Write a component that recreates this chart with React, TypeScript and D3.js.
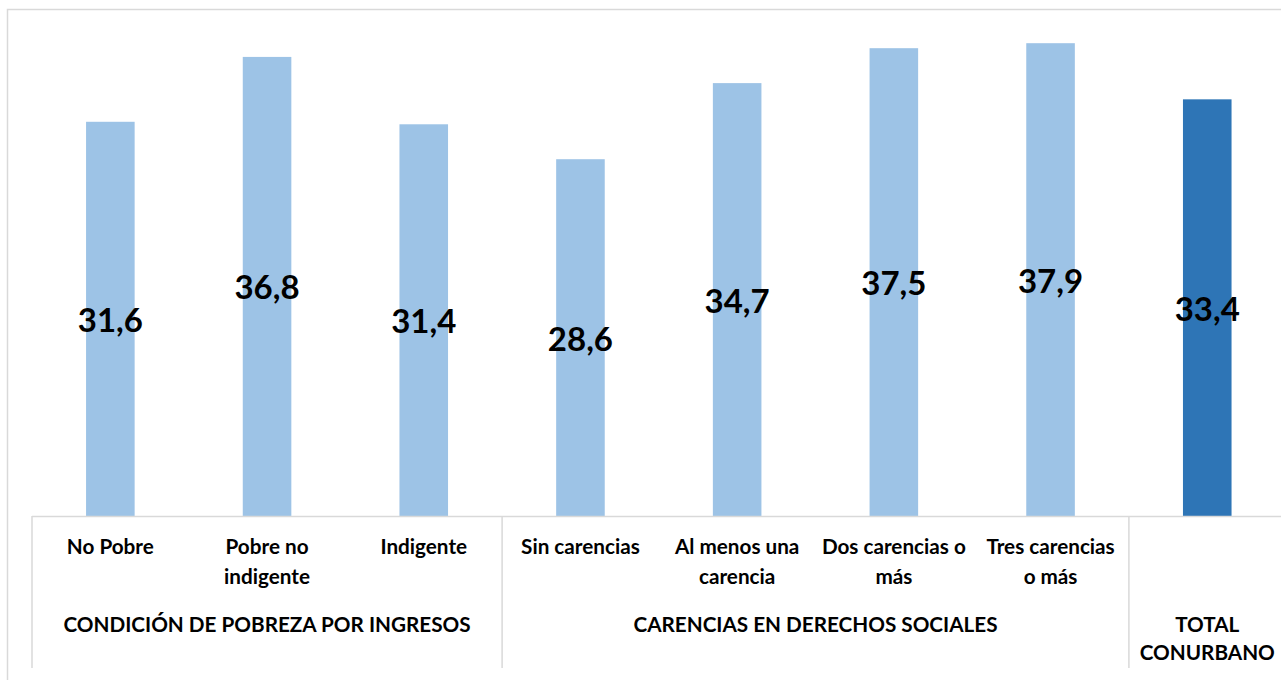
import React from "react";
import * as d3 from "d3";

const categories = [
  "No Pobre",
  "Pobre no indigente",
  "Indigente",
  "Sin carencias",
  "Al menos una carencia",
  "Dos carencias o más",
  "Tres carencias o más",
  "Total conurbano",
];
const tickLines: string[][] = [
  ["No Pobre"],
  ["Pobre no", "indigente"],
  ["Indigente"],
  ["Sin carencias"],
  ["Al menos una", "carencia"],
  ["Dos carencias o", "más"],
  ["Tres carencias", "o más"],
  [],
];
const values = [31.6, 36.8, 31.4, 28.6, 34.7, 37.5, 37.9, 33.4];
const valueLabels = ["31,6", "36,8", "31,4", "28,6", "34,7", "37,5", "37,9", "33,4"];
const highlighted = [false, false, false, false, false, false, false, true];

const groupNames: string[][] = [
  ["CONDICIÓN DE POBREZA POR INGRESOS"],
  ["CARENCIAS EN DERECHOS SOCIALES"],
  ["TOTAL", "CONURBANO"],
];
const groupStart = [0, 3, 7];
const groupEnd = [3, 7, 8];

const W = 1281;
const H = 680;
const FONT = "Lato, 'Open Sans', sans-serif";

export default function App() {
  const left = 32;
  const step = 156.7;
  const right = left + step * categories.length;
  const baseY = 516;

  const x = d3
    .scaleBand<string>()
    .domain(categories)
    .range([left, right])
    .paddingInner(0.69)
    .paddingOuter(0.345);
  const y = d3.scaleLinear().domain([0, 40]).range([baseY, 17]);

  const stepPx = x.step();
  const boundary = (i: number) => left + i * stepPx;
  const sepIdx = [0, 3, 7];

  return (
    <svg
      width={W}
      height={H}
      style={{ position: "absolute", left: 0, top: 0, display: "block", background: "#fff" }}
      fontFamily={FONT}
    >
      <rect x={7.5} y={9.5} width={W + 20} height={H + 20} fill="#fff" stroke="#d9d9d9" strokeWidth={1.5} />

      {categories.map((c, i) => {
        const bx = x(c)!;
        const top = y(values[i]);
        return (
          <rect
            key={c}
            x={bx}
            y={top}
            width={x.bandwidth()}
            height={baseY - top}
            fill={highlighted[i] ? "#2E75B6" : "#9DC3E6"}
          />
        );
      })}

      <line x1={left} x2={right} y1={baseY + 0.5} y2={baseY + 0.5} stroke="#d9d9d9" strokeWidth={1.5} />
      {sepIdx.map((i) => (
        <line
          key={"s" + i}
          x1={boundary(i)}
          x2={boundary(i)}
          y1={baseY}
          y2={668}
          stroke="#d9d9d9"
          strokeWidth={1.5}
        />
      ))}

      {categories.map((c, i) => {
        const cx = x(c)! + x.bandwidth() / 2;
        const top = y(values[i]);
        return (
          <text
            key={"v" + c}
            x={cx}
            y={(top + baseY) / 2}
            textAnchor="middle"
            dominantBaseline="central"
            fontWeight={700}
            fontSize={33}
            fill="#000"
          >
            {valueLabels[i]}
          </text>
        );
      })}

      {categories.map((c, i) => {
        const cx = x(c)! + x.bandwidth() / 2;
        return (
          <text key={"t" + c} textAnchor="middle" fontWeight={700} fontSize={20.7} fill="#000">
            {tickLines[i].map((ln, j) => (
              <tspan key={j} x={cx} y={554 + j * 30}>
                {ln}
              </tspan>
            ))}
          </text>
        );
      })}

      {groupNames.map((g, gi) => {
        const cx = (boundary(groupStart[gi]) + boundary(groupEnd[gi])) / 2;
        return (
          <text key={"g" + gi} textAnchor="middle" fontWeight={700} fontSize={20.7} fill="#000">
            {g.map((ln, j) => (
              <tspan key={j} x={cx} y={632 + j * 28}>
                {ln}
              </tspan>
            ))}
          </text>
        );
      })}
    </svg>
  );
}
